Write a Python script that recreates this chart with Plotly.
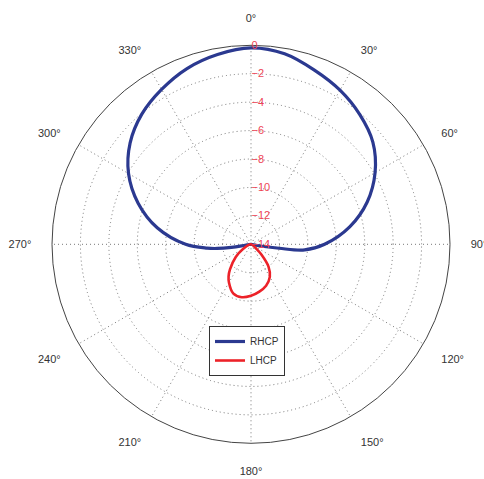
import plotly.graph_objects as go

# Polar radiation pattern: co-pol (RHCP) and cross-pol (LHCP), gain in dB
rhcp_theta = [0, 10, 20, 30, 40, 50, 60, 70, 80, 90, 96, 98, 100, 101,
              180, 259, 260, 261, 263, 265, 270, 280, 290, 300, 310,
              320, 330, 340, 350, 360]
rhcp_db = [-0.18, -0.39, -0.96, -1.48, -2.09, -2.81, -3.92, -5.30,
           -6.95, -8.82, -10.2, -12.0, -13.2, -14.0,
           -14.0, -14.0, -13.4, -12.6, -11.6, -10.9, -9.4, -7.3, -5.55,
           -4.05, -2.9, -2.05, -1.42, -0.84, -0.44, -0.18]

lhcp_theta = [125, 130, 135, 142, 150, 160, 170, 180, 190, 200, 210, 215,
              220, 230, 240, 246]
lhcp_db = [-14.0, -13.5, -12.95, -12.0, -11.35, -10.9, -10.62, -10.38,
           -10.22, -10.33, -10.9, -11.25, -11.7, -12.6, -13.35, -14.0]

angle_ticks = list(range(0, 360, 30))
angle_labels = [f"{a}°" for a in angle_ticks]
radial_ticks = [-14, -12, -10, -8, -6, -4, -2, 0]
radial_labels = [str(v).replace("-", "−") for v in radial_ticks]

W, H = 484, 479
cx, cy, R = 251.0, 244.3, 199.0

fig = go.Figure()
fig.add_trace(go.Scatterpolar(
    r=rhcp_db, theta=rhcp_theta, mode="lines", name="RHCP",
    line=dict(color="#2b3990", width=3.2, shape="spline", smoothing=1.0),
))
fig.add_trace(go.Scatterpolar(
    r=lhcp_db, theta=lhcp_theta, mode="lines", name="LHCP",
    line=dict(color="#ec2229", width=2.6, shape="spline", smoothing=1.0),
))

grid_dash = "1px,3px"

fig.update_layout(
    width=W, height=H,
    margin=dict(l=0, r=0, t=0, b=0),
    paper_bgcolor="white",
    font=dict(family="Liberation Sans, Arial, sans-serif"),
    showlegend=True,
    legend=dict(
        x=209 / W, y=1 - 326 / H, xanchor="left", yanchor="top",
        bgcolor="white", bordercolor="#333", borderwidth=1,
        font=dict(size=10, color="#333"),
        itemwidth=30, tracegroupgap=0,
    ),
    polar=dict(
        domain=dict(x=[(cx - R) / W, (cx + R) / W],
                    y=[(H - cy - R) / H, (H - cy + R) / H]),
        bgcolor="white",
        angularaxis=dict(
            rotation=90, direction="clockwise",
            tickmode="array", tickvals=angle_ticks, ticktext=angle_labels,
            showline=True, linecolor="#444", linewidth=1,
            showgrid=True, gridcolor="#777", griddash=grid_dash, gridwidth=1,
            ticks="outside", ticklen=18, tickcolor="rgba(0,0,0,0)",
            tickfont=dict(size=11, color="#333"),
        ),
        radialaxis=dict(
            range=[-14, 0], tickmode="array", tickvals=radial_ticks,
            ticktext=radial_labels, angle=90, tickangle=90, showline=False,
            showgrid=True, gridcolor="#777", griddash=grid_dash, gridwidth=1,
            ticks="", tickfont=dict(size=11, color="#ee4455"),
        ),
    ),
)

fig.write_html("out.html")
